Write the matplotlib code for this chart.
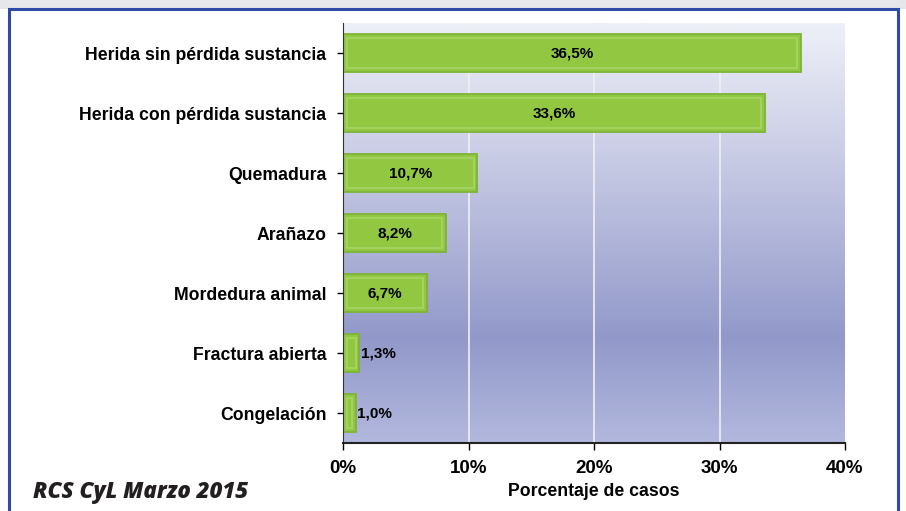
import numpy as np
import matplotlib
matplotlib.use('Agg')
import matplotlib.pyplot as plt
from matplotlib.patches import Rectangle
from matplotlib.colors import LinearSegmentedColormap

categories = ['Herida sin pérdida sustancia', 'Herida con pérdida sustancia',
              'Quemadura', 'Arañazo', 'Mordedura animal', 'Fractura abierta',
              'Congelación']
values = [36.5, 33.6, 10.7, 8.2, 6.7, 1.3, 1.0]
labels = ['36,5%', '33,6%', '10,7%', '8,2%', '6,7%', '1,3%', '1,0%']
xticks = [0, 10, 20, 30, 40]
xticklabels = ['0%', '10%', '20%', '30%', '40%']

plt.rcParams['font.family'] = ['Liberation Sans', 'DejaVu Sans']

fig = plt.figure(figsize=(9.06, 5.11), dpi=100)
W, H = 906.0, 511.0

# grey strip at the top and blue frame
fig.patches.append(Rectangle((0, 1 - 9 / H), 1, 9 / H, transform=fig.transFigure,
                             facecolor='#e6e7ea', edgecolor='none', zorder=-2))
fig.patches.append(Rectangle((9 / W, -0.1), 889 / W, 1.1 - 9 / H,
                             transform=fig.transFigure, facecolor='white',
                             edgecolor='#2c4aa6', linewidth=2.2, zorder=-1))

ax = fig.add_axes([343 / W, 1 - 443 / H, 502 / W, 420 / H])
ax.set_zorder(1)

# gradient background
cmap = LinearSegmentedColormap.from_list(
    'bg', [(0.0, '#eef0f8'), (0.35, '#c5c8e3'), (0.75, '#9299ca'), (1.0, '#b2b8dd')])
grad = np.linspace(0, 1, 256).reshape(-1, 1)
ax.imshow(grad, cmap=cmap, aspect='auto', extent=[0, 40, len(categories) - 0.5, -0.5],
          zorder=0)
ax.set_xlim(0, 40)
ax.set_ylim(len(categories) - 0.5, -0.5)

for x in xticks[1:-1]:
    ax.axvline(x, color='#f0f0f0', linewidth=1.2, zorder=1)

y = np.arange(len(categories))
ax.barh(y, values, height=0.64, color='#92c841', edgecolor='#7db338',
        linewidth=1.3, zorder=2)
ax.barh(y, [v - 0.6 for v in values], left=0.3, height=0.5, color='none',
        edgecolor='#a8d568', linewidth=1.2, zorder=3)

for yi, v, lab in zip(y, values, labels):
    if v > 5:
        ax.text(v / 2, yi, lab, ha='center', va='center', fontsize=11,
                fontweight='bold', zorder=4)
    else:
        ax.text(v + 0.1, yi, lab, ha='left', va='center', fontsize=11,
                fontweight='bold', zorder=4)

ax.set_yticks(y)
ax.set_yticklabels(categories, fontsize=12.7, fontweight='bold')
ax.set_xticks(xticks)
ax.set_xticklabels(xticklabels, fontsize=13.5, fontweight='bold')
ax.tick_params(axis='y', length=4, width=1, pad=8)
ax.tick_params(axis='x', length=5, width=1, pad=7)
for s in ['top', 'right']:
    ax.spines[s].set_visible(False)
ax.spines['left'].set_color('#333333')
ax.spines['bottom'].set_color('#222222')
ax.spines['bottom'].set_linewidth(1.5)

fig.text(594 / W, 1 - 492 / H, 'Porcentaje de casos', ha='center', va='center',
         fontsize=12.7, fontweight='bold')
fig.text(33 / W, 1 - 492 / H, 'RCS CyL Marzo 2015', ha='left', va='center',
         fontsize=16, fontweight='heavy', fontstyle='italic', family='Open Sans',
         color='#231f20')

fig.savefig('out.png', dpi=100)
